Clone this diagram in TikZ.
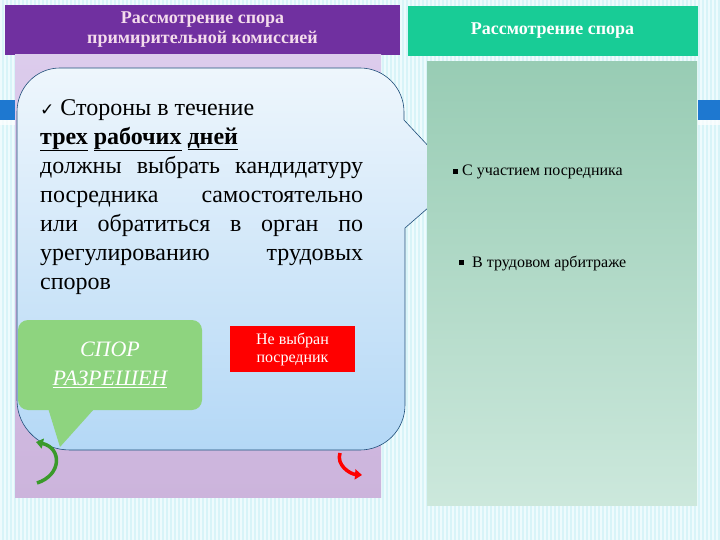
\documentclass[tikz,border=0pt]{standalone}
\usepackage{fontspec}
\setmainfont{Liberation Serif}
\newfontfamily\djv{DejaVu Sans}
\usetikzlibrary{arrows.meta}
\definecolor{bgc}{HTML}{D8F4F8}
\definecolor{stripe}{HTML}{EEFBFD}
\definecolor{bluebar}{HTML}{1E78D0}
\definecolor{purp}{HTML}{7030A0}
\definecolor{pinktx}{HTML}{F4DCEC}
\definecolor{lav1}{HTML}{DCCCEC}
\definecolor{lav2}{HTML}{CCB4DC}
\definecolor{bub1}{HTML}{EEF6FC}
\definecolor{bub2}{HTML}{B4D8F6}
\definecolor{bubedge}{HTML}{1F4E79}
\definecolor{grn}{HTML}{8ED47F}
\definecolor{teal}{HTML}{18CC96}
\definecolor{pan1}{HTML}{98CCB4}
\definecolor{pan2}{HTML}{CCE8DC}
\definecolor{darkgrn}{HTML}{3A9A2A}
\tikzset{
 hdr/.style={font=\bfseries\fontsize{18}{21}\selectfont, align=center, inner sep=0pt},
 bul/.style={font=\fontsize{16}{19}\selectfont, anchor=west, inner sep=0pt},
}
\begin{document}
\begin{tikzpicture}[x=1pt,y=-1pt]
\useasboundingbox (0,0) rectangle (720,540);
\fill[bgc] (0,0) rectangle (720,540);
\foreach \i in {0,4,...,716} \fill[stripe] (\i,0) rectangle (\i+1.6,540);
\fill[bluebar] (0,100) rectangle (16,120);
\fill[bluebar] (698,100) rectangle (720,120);
\fill[white,opacity=.7] (0,120) rectangle (16,125);
\fill[white,opacity=.7] (698,120) rectangle (720,125);
% left header
\node[fill=purp, minimum width=395pt, minimum height=50pt, inner sep=0pt] (lh) at (202.5,30) {};
\node[hdr, text=pinktx] (lht) at (lh) {Рассмотрение спора\\[-1pt]примирительной комиссией};
% left panel
\shade[top color=lav1,bottom color=lav2] (15,55) rectangle (381,497);
% bubble
\path[draw=bubedge, line width=0.6pt, top color=bub1, bottom color=bub2]
 (60,68) -- (360,68) to[out=0,in=90] (404,112) -- (404,120) -- (460,180) -- (405,228)
 -- (405,405) to[out=-90,in=0] (360,450) -- (70,450) to[out=180,in=-90] (17,400)
 -- (17,112) to[out=90,in=180] (60,68) -- cycle;
\node[anchor=north west, text width=323pt, align=justify, inner sep=0pt,
 font=\fontsize{24}{29}\selectfont] (txt) at (40,99)
 {{\djv\fontsize{17}{29}\selectfont ✓}\ Стороны в течение\\
 \textbf{\underline{трех} \underline{рабочих} \underline{дней}}\\
 должны выбрать кандидатуру посредника самостоятельно или обратиться в орган по урегулированию трудовых споров};
% green callout
\fill[grn, rounded corners=10pt] (18,320) rectangle (202,410);
\fill[grn] (95,408) -- (60,447) -- (48,408) -- cycle;
\node[text=white, font=\itshape\fontsize{22}{29}\selectfont, align=center] (spor) at (110,365)
 {СПОР\\\underline{РАЗРЕШЕН}};
% red box
\node[fill=red, text=white, minimum width=125pt, minimum height=46pt, align=center,
 font=\fontsize{16}{18}\selectfont, inner sep=0pt] (red) at (292.5,349) {Не выбран\\посредник};
% arrows
\coordinate (ga) at (37,483);
\coordinate (gb) at (36,442);
\draw[darkgrn, line width=3.5pt, -{Triangle[length=7pt,width=10pt]}]
 (ga) .. controls (62,475) and (62,448) .. (gb);
\coordinate (ra) at (340,453);
\coordinate (rb) at (362,475);
\draw[red, line width=3.5pt, -{Triangle[length=7pt,width=10pt]}]
 (ra) .. controls (336,465) and (350,474) .. (rb);
% right header
\node[fill=teal, minimum width=290pt, minimum height=50pt, inner sep=0pt] (rh) at (552.5,31) {};
\node[hdr, text=white] (rht) at (rh) {Рассмотрение спора};
% right panel
\shade[top color=pan1,bottom color=pan2] (427,62) rectangle (697,505);
\node[bul] (b1) at (453,172) {\rule[2pt]{5pt}{5pt}\ С участием посредника};
\node[bul] (b2) at (459,263) {\rule[2pt]{5pt}{5pt}\ \ В трудовом арбитраже};
\end{tikzpicture}
\end{document}
